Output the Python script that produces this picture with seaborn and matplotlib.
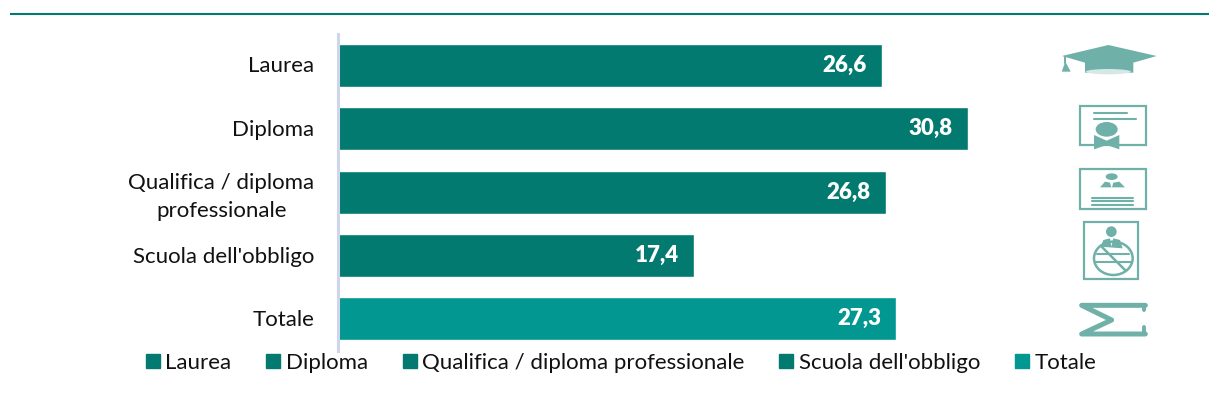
import matplotlib
matplotlib.use("Agg")
import matplotlib.pyplot as plt
import pandas as pd
import seaborn as sns
from matplotlib.patches import Ellipse, Polygon, Rectangle
from matplotlib.transforms import ScaledTranslation

categories = ["Laurea", "Diploma", "Qualifica / diploma\nprofessionale", "Scuola dell'obbligo", "Totale"]
legend_labels = ["Laurea", "Diploma", "Qualifica / diploma professionale", "Scuola dell'obbligo", "Totale"]
values = [26.6, 30.8, 26.8, 17.4, 27.3]
colors = ["#027a70", "#027a70", "#027a70", "#027a70", "#029790"]

W, H = 1209, 415
ICON = "#6fb0a9"

sns.set_style("white")
plt.rcParams["font.family"] = ["Lato", "DejaVu Sans"]

df = pd.DataFrame({"cat": categories, "val": values})

fig = plt.figure(figsize=(W / 100, H / 100), dpi=100)
ax = fig.add_axes([338.2 / W, 1 - 350.6 / H, 701 / W, 317 / H])

sns.barplot(data=df, y="cat", x="val", hue="cat", palette=colors, dodge=False,
            width=0.68, legend=False, ax=ax, saturation=1)
ax.set_xlim(0, 701 / 20.45)
ax.set_xlabel("")
ax.set_ylabel("")
ax.set_xticks([])
ax.tick_params(axis="y", length=0, labelsize=16, pad=17, labelcolor="#111111")
up = ScaledTranslation(0, 0.8 / 100, fig.dpi_scale_trans)
for lab in ax.get_yticklabels():
    lab.set_multialignment("center")
    lab.set_linespacing(1.5)
    lab.set_transform(lab.get_transform() + up)
sns.despine(ax=ax, left=False, bottom=True)
ax.spines["left"].set_color("#cfd5ea")
ax.spines["left"].set_linewidth(2.2)

for i, v in enumerate(values):
    ax.annotate(f"{v:.1f}".replace(".", ","), xy=(v, i), xytext=(-11, 0),
                textcoords="offset points", ha="right", va="center",
                color="white", fontsize=16, fontweight="heavy")

# legend
handles = [Rectangle((0, 0), 1, 1, color=c) for c in colors]
fig.legend(handles, legend_labels, ncol=5, frameon=False, fontsize=16,
           loc="center left", bbox_to_anchor=(146 / W, 1 - 363 / H),
           handlelength=0.63, handleheight=0.63, handletextpad=0.24,
           columnspacing=1.57, labelcolor="#111111", borderpad=0, borderaxespad=0)

# overlay in pixel coords for rule and icons
ov = fig.add_axes([0, 0, 1, 1], zorder=-1)
ov.set_xlim(0, W)
ov.set_ylim(H, 0)
ov.axis("off")
ov.plot([10, W], [14, 14], color="#027a70", lw=1.5, solid_capstyle="butt")


def z(x, y):
    # crop coords of the icon column -> figure pixels
    return 1040 + x / 3, 30 + y / 3


def poly(pts, **kw):
    ov.add_patch(Polygon([z(*p) for p in pts], closed=True, color=kw.pop("color", ICON), lw=0, **kw))


def frame(x0, y0, x1, y1):
    a, b = z(x0, y0), z(x1, y1)
    ov.add_patch(Rectangle(a, b[0] - a[0], b[1] - a[1], fill=False, ec=ICON, lw=1.6))


def line(pts, lw=1.5):
    xs, ys = zip(*[z(*p) for p in pts])
    ov.plot(xs, ys, color=ICON, lw=lw, solid_capstyle="round")


def ell(x, y, w, h, **kw):
    ov.add_patch(Ellipse(z(x, y), w / 3, h / 3, **kw))


# graduation cap
poly([(66, 78), (205, 45), (350, 78), (280, 98), (280, 128), (135, 128), (135, 98)])
ell(205, 125, 135, 16, color="#d5e8e5", lw=0)
line([(75, 80), (75, 100)])
poly([(65, 125), (76, 95), (92, 125)])

# diploma
frame(120, 227, 317, 345)
line([(162, 248), (262, 248)])
line([(162, 267), (287, 267)])
poly([(162, 315), (200, 332), (238, 315), (238, 358), (200, 345), (162, 358)])
ell(200, 298, 66, 44, color=ICON, lw=0)

# qualifica
frame(120, 418, 317, 538)
ell(215, 440, 36, 20, color=ICON, lw=0)
poly([(180, 472), (195, 455), (210, 458), (215, 475), (220, 458), (238, 455), (255, 472)])
for yy in (505, 514, 524):
    line([(155, yy), (280, yy)])

# scuola dell'obbligo
frame(133, 575, 295, 748)
ell(214, 605, 32, 32, color=ICON, lw=0)
poly([(182, 650), (190, 630), (210, 625), (214, 650), (220, 625), (240, 630), (248, 655)])
ell(220, 685, 116, 100, fill=False, ec=ICON, lw=1.8)
line([(172, 672), (268, 672)])
line([(165, 697), (275, 697)])
line([(185, 650), (255, 720)], lw=1.8)

# sigma
line([(316, 826), (125, 826), (215, 870), (125, 912), (316, 912)], lw=3.6)
line([(312, 826), (312, 840)], lw=2.8)
line([(312, 912), (312, 892)], lw=2.8)

fig.savefig("out.png", dpi=100, facecolor="white")
